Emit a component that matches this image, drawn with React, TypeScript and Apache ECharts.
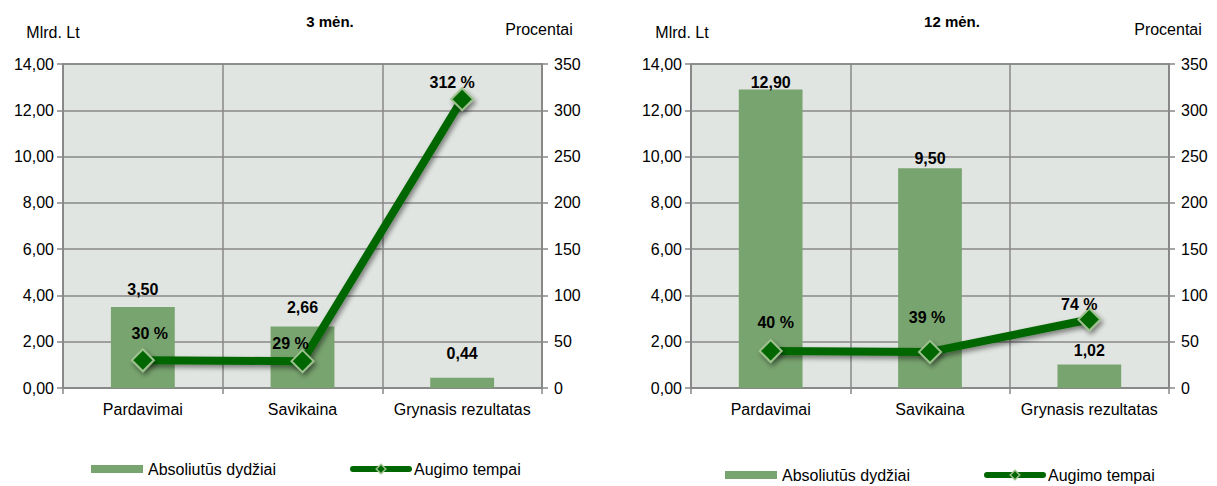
import React, { useEffect, useRef } from "react";
import * as echarts from "echarts";

const categories = ["Pardavimai", "Savikaina", "Grynasis rezultatas"];
const bars3 = [3.5, 2.66, 0.44];
const growth3 = [30, 29, 312];
const bars12 = [12.9, 9.5, 1.02];
const growth12 = [40, 39, 74];
const titles = ["3 mėn.", "12 mėn."];
const leftAxisName = "Mlrd. Lt";
const rightAxisName = "Procentai";
const barName = "Absoliutūs dydžiai";
const lineName = "Augimo tempai";

// label style offsets (px)
const barLabelOffsets3 = [[0, -5], [0, -6], [0, -11]];
const barLabelOffsets12 = [[0, 6], [0, 3], [0, -1]];
const lineLabelOffsets3 = [[7, -27], [-12, -18], [-10, -17]];
const lineLabelOffsets12 = [[5, -28], [-3, -34], [-10, -15]];

const FONT = "'Liberation Sans', Arial, sans-serif";
const FS = 16;
const GRID_COLOR = "#878787";
const BAR_COLOR = "#78a46f";
const LINE_COLOR = "#006600";
const MARKER_BORDER = "#9dc08e";

const fmtNum = (v: number) => v.toFixed(2).replace(".", ",");

export default function App() {
  const ref = useRef<HTMLDivElement>(null);
  useEffect(() => {
    if (!ref.current) return;
    const chart = echarts.init(ref.current, null, { renderer: "svg" });
    const grids = [
      { left: 63, top: 64, width: 479, height: 324 },
      { left: 691, top: 64, width: 478, height: 324 },
    ];
    const xAxes = grids.map((_, i) => ({
      type: "category",
      gridIndex: i,
      data: categories,
      axisLine: { lineStyle: { color: GRID_COLOR, width: 1.5 } },
      axisTick: { show: true, length: 6, interval: 0, lineStyle: { color: GRID_COLOR, width: 1.5 } },
      splitLine: { show: true, interval: 0, lineStyle: { color: GRID_COLOR, width: 1.5 } },
      axisLabel: { color: "#000", fontSize: FS, fontFamily: FONT, margin: 13, interval: 0 },
    }));
    const nameOffsets = [
      [20, 24, 6, 27],
      [18, 24, 2, 27],
    ];
    const yAxes: any[] = [];
    grids.forEach((_, i) => {
      yAxes.push({
        type: "value",
        gridIndex: i,
        min: 0,
        max: 14,
        interval: 2,
        position: "left",
        name: leftAxisName,
        nameLocation: "end",
        nameGap: nameOffsets[i][1],
        nameTextStyle: { color: "#000", fontSize: FS, fontFamily: FONT, align: "center", padding: [0, nameOffsets[i][0], 0, 0] },
        axisLine: { show: true, lineStyle: { color: GRID_COLOR, width: 1.5 } },
        axisTick: { show: true, length: 6, lineStyle: { color: GRID_COLOR, width: 1.5 } },
        splitLine: { show: true, lineStyle: { color: GRID_COLOR, width: 1.5 } },
        axisLabel: { color: "#000", fontSize: FS, fontFamily: FONT, margin: 9, formatter: (v: number) => fmtNum(v) },
      });
      yAxes.push({
        type: "value",
        gridIndex: i,
        min: 0,
        max: 350,
        interval: 50,
        position: "right",
        name: rightAxisName,
        nameLocation: "end",
        nameGap: nameOffsets[i][3],
        nameTextStyle: { color: "#000", fontSize: FS, fontFamily: FONT, align: "center", padding: [0, nameOffsets[i][2], 0, 0] },
        axisLine: { show: true, lineStyle: { color: GRID_COLOR, width: 1.5 } },
        axisTick: { show: true, length: 6, lineStyle: { color: GRID_COLOR, width: 1.5 } },
        splitLine: { show: false },
        axisLabel: { color: "#000", fontSize: FS, fontFamily: FONT, margin: 12 },
      });
    });

    const labelStyle = { color: "#000", fontSize: FS, fontWeight: "bold", fontFamily: FONT };
    const makeBar = (vals: number[], offs: number[][], i: number) => ({
      name: barName,
      type: "bar",
      xAxisIndex: i,
      yAxisIndex: i * 2,
      barWidth: "40%",
      itemStyle: { color: BAR_COLOR },
      data: vals.map((v, k) => ({
        value: v,
        label: { show: true, position: "top", offset: offs[k], formatter: () => fmtNum(v), ...labelStyle },
      })),
      z: 2,
    });
    const makeLine = (vals: number[], offs: number[][], i: number) => ({
      name: lineName,
      type: "line",
      xAxisIndex: i,
      yAxisIndex: i * 2 + 1,
      symbol: "diamond",
      symbolSize: 22,
      lineStyle: {
        color: LINE_COLOR,
        width: 8,
        shadowColor: "rgba(0,0,0,0.45)",
        shadowBlur: 5,
        shadowOffsetX: 2,
        shadowOffsetY: 3,
      },
      itemStyle: {
        color: LINE_COLOR,
        borderColor: MARKER_BORDER,
        borderWidth: 2,
        shadowColor: "rgba(0,0,0,0.45)",
        shadowBlur: 5,
        shadowOffsetX: 2,
        shadowOffsetY: 3,
      },
      data: vals.map((v, k) => ({
        value: v,
        label: { show: true, position: "inside", offset: offs[k], formatter: () => `${v} %`, ...labelStyle },
      })),
      z: 3,
    });

    const legendBase = {
      textStyle: { color: "#000", fontSize: FS, fontFamily: FONT, padding: [0, 0, 0, 0] },
      padding: 0,
      itemGap: 4,
      selectedMode: false,
    };
    const barLegend = (left: number, top: number) => ({
      ...legendBase,
      left,
      top,
      data: [{ name: barName, icon: "rect" }],
      itemWidth: 52,
      itemHeight: 8,
      itemStyle: { color: BAR_COLOR },
    });
    const lineLegend = (left: number, top: number) => ({
      ...legendBase,
      left,
      top,
      data: [lineName],
      itemWidth: 56,
      itemHeight: 12,
      lineStyle: { width: 6, color: LINE_COLOR, cap: "round", shadowBlur: 0 },
      itemStyle: { color: LINE_COLOR, borderColor: MARKER_BORDER, borderWidth: 1.5, shadowBlur: 0 },
    });

    chart.setOption({
      animation: false,
      title: [
        { text: titles[0], left: 325, top: 9, textAlign: "center", textStyle: { fontSize: 15, fontWeight: "bold", fontFamily: FONT, color: "#000" } },
        { text: titles[1], left: 947, top: 9, textAlign: "center", textStyle: { fontSize: 15, fontWeight: "bold", fontFamily: FONT, color: "#000" } },
      ],
      grid: grids.map((g) => ({ ...g, show: true, backgroundColor: "#e1e5e1", borderColor: GRID_COLOR, borderWidth: 1.5 })),
      xAxis: xAxes,
      yAxis: yAxes,
      legend: [barLegend(91, 461), lineLegend(350, 461), barLegend(725, 467), lineLegend(984, 467)],
      series: [
        makeBar(bars3, barLabelOffsets3, 0),
        makeLine(growth3, lineLabelOffsets3, 0),
        makeBar(bars12, barLabelOffsets12, 1),
        makeLine(growth12, lineLabelOffsets12, 1),
      ],
    });
    return () => chart.dispose();
  }, []);
  return <div ref={ref} style={{ width: 1217, height: 486, position: "absolute", left: 0, top: 0 }} />;
}
